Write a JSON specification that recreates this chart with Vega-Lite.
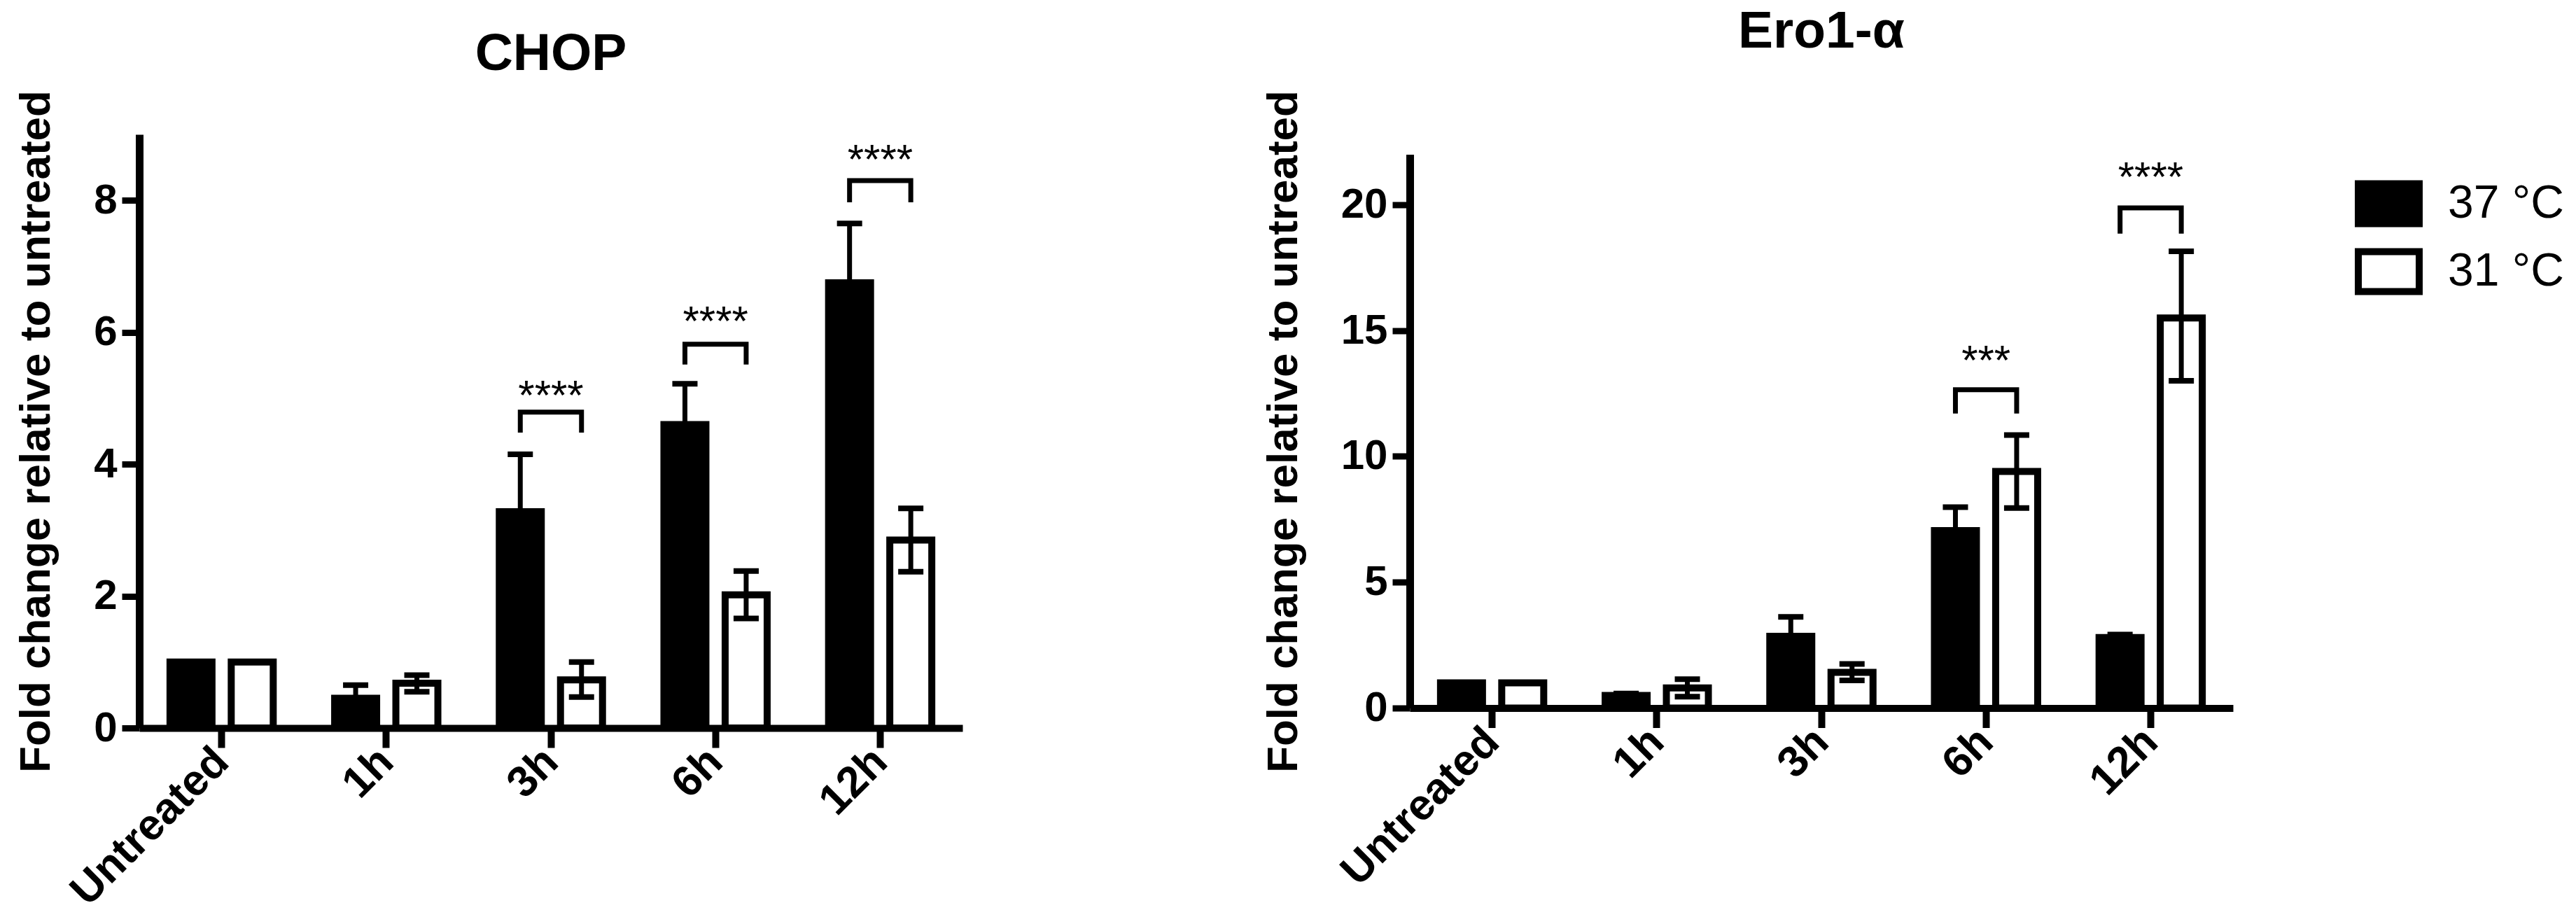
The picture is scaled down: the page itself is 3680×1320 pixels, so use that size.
{
  "$schema": "https://vega.github.io/schema/vega-lite/v6.json",
  "padding": {"left": 20, "top": 7, "right": 5, "bottom": 5},
  "background": "white",
  "config": {
    "font": "Liberation Sans",
    "view": {"stroke": null},
    "axis": {"grid": false, "domainColor": "black", "tickColor": "black", "labelColor": "black", "titleColor": "black", "labelFont": "Liberation Sans", "titleFont": "Liberation Sans"},
    "title": {"font": "Liberation Sans", "color": "black"}
  },
  "datasets": {
    "bars": [
      {"panel": "CHOP", "time": "Untreated", "temp": "37 °C", "mean": 1.0, "lo": null, "hi": null},
      {"panel": "CHOP", "time": "Untreated", "temp": "31 °C", "mean": 1.0, "lo": null, "hi": null},
      {"panel": "CHOP", "time": "1h", "temp": "37 °C", "mean": 0.45, "lo": 0.25, "hi": 0.65},
      {"panel": "CHOP", "time": "1h", "temp": "31 °C", "mean": 0.68, "lo": 0.55, "hi": 0.8},
      {"panel": "CHOP", "time": "3h", "temp": "37 °C", "mean": 3.28, "lo": 2.45, "hi": 4.15},
      {"panel": "CHOP", "time": "3h", "temp": "31 °C", "mean": 0.73, "lo": 0.47, "hi": 1.0},
      {"panel": "CHOP", "time": "6h", "temp": "37 °C", "mean": 4.6, "lo": 4.0, "hi": 5.22},
      {"panel": "CHOP", "time": "6h", "temp": "31 °C", "mean": 2.02, "lo": 1.66, "hi": 2.38},
      {"panel": "CHOP", "time": "12h", "temp": "37 °C", "mean": 6.75, "lo": 5.85, "hi": 7.65},
      {"panel": "CHOP", "time": "12h", "temp": "31 °C", "mean": 2.85, "lo": 2.37, "hi": 3.33},
      {"panel": "Ero1", "time": "Untreated", "temp": "37 °C", "mean": 1.0, "lo": null, "hi": null},
      {"panel": "Ero1", "time": "Untreated", "temp": "31 °C", "mean": 1.0, "lo": null, "hi": null},
      {"panel": "Ero1", "time": "1h", "temp": "37 °C", "mean": 0.5, "lo": 0.42, "hi": 0.58},
      {"panel": "Ero1", "time": "1h", "temp": "31 °C", "mean": 0.8, "lo": 0.45, "hi": 1.15},
      {"panel": "Ero1", "time": "3h", "temp": "37 °C", "mean": 2.85, "lo": 2.1, "hi": 3.62},
      {"panel": "Ero1", "time": "3h", "temp": "31 °C", "mean": 1.42, "lo": 1.1, "hi": 1.75},
      {"panel": "Ero1", "time": "6h", "temp": "37 °C", "mean": 7.05, "lo": 6.1, "hi": 7.98},
      {"panel": "Ero1", "time": "6h", "temp": "31 °C", "mean": 9.4, "lo": 7.95, "hi": 10.85},
      {"panel": "Ero1", "time": "12h", "temp": "37 °C", "mean": 2.8, "lo": 2.68, "hi": 2.92},
      {"panel": "Ero1", "time": "12h", "temp": "31 °C", "mean": 15.5, "lo": 13.0, "hi": 18.15}
    ],
    "brackets": [
      {"panel": "CHOP", "time": "3h", "temp": "37 °C", "ord": 1, "v": 4.48},
      {"panel": "CHOP", "time": "3h", "temp": "37 °C", "ord": 2, "v": 4.79},
      {"panel": "CHOP", "time": "3h", "temp": "31 °C", "ord": 3, "v": 4.79},
      {"panel": "CHOP", "time": "3h", "temp": "31 °C", "ord": 4, "v": 4.48},
      {"panel": "CHOP", "time": "6h", "temp": "37 °C", "ord": 1, "v": 5.51},
      {"panel": "CHOP", "time": "6h", "temp": "37 °C", "ord": 2, "v": 5.82},
      {"panel": "CHOP", "time": "6h", "temp": "31 °C", "ord": 3, "v": 5.82},
      {"panel": "CHOP", "time": "6h", "temp": "31 °C", "ord": 4, "v": 5.51},
      {"panel": "CHOP", "time": "12h", "temp": "37 °C", "ord": 1, "v": 7.97},
      {"panel": "CHOP", "time": "12h", "temp": "37 °C", "ord": 2, "v": 8.3},
      {"panel": "CHOP", "time": "12h", "temp": "31 °C", "ord": 3, "v": 8.3},
      {"panel": "CHOP", "time": "12h", "temp": "31 °C", "ord": 4, "v": 7.97},
      {"panel": "Ero1", "time": "6h", "temp": "37 °C", "ord": 1, "v": 11.7},
      {"panel": "Ero1", "time": "6h", "temp": "37 °C", "ord": 2, "v": 12.65},
      {"panel": "Ero1", "time": "6h", "temp": "31 °C", "ord": 3, "v": 12.65},
      {"panel": "Ero1", "time": "6h", "temp": "31 °C", "ord": 4, "v": 11.7},
      {"panel": "Ero1", "time": "12h", "temp": "37 °C", "ord": 1, "v": 18.85},
      {"panel": "Ero1", "time": "12h", "temp": "37 °C", "ord": 2, "v": 19.87},
      {"panel": "Ero1", "time": "12h", "temp": "31 °C", "ord": 3, "v": 19.87},
      {"panel": "Ero1", "time": "12h", "temp": "31 °C", "ord": 4, "v": 18.85}
    ],
    "stars": [
      {"panel": "CHOP", "time": "3h", "v": 5.02, "label": "****"},
      {"panel": "CHOP", "time": "6h", "v": 6.14, "label": "****"},
      {"panel": "CHOP", "time": "12h", "v": 8.6, "label": "****"},
      {"panel": "Ero1", "time": "6h", "v": 13.75, "label": "***"},
      {"panel": "Ero1", "time": "12h", "v": 21.05, "label": "****"}
    ]
  },
  "hconcat": [
    {
      "width": 1176,
      "height": 848,
      "title": {"text": "CHOP", "fontSize": 75, "fontWeight": "bold", "offset": -46, "baseline": "alphabetic", "frame": "group", "anchor": "middle"},
      "encoding": {
        "x": {"field": "time", "type": "nominal", "sort": ["Untreated", "1h", "3h", "6h", "12h"],
          "scale": {"paddingInner": 0.373, "paddingOuter": 0.1865},
          "axis": {"title": null, "labelAngle": -45, "labelAlign": "right", "labelBaseline": "middle", "labelFontSize": 62, "labelFontWeight": "bold", "labelPadding": 10, "labelLimit": 0, "tickSize": 28, "tickWidth": 10, "domainWidth": 10}}
      },
      "layer": [
        {
          "data": {"name": "bars"},
          "transform": [{"filter": "datum.panel === 'CHOP'"}],
          "mark": {"type": "bar", "stroke": "black", "strokeWidth": 10, "strokeJoin": "miter"},
          "encoding": {
            "xOffset": {"field": "temp", "type": "nominal", "sort": ["37 °C", "31 °C"], "scale": {"paddingInner": 0.314, "paddingOuter": 0}},
            "y": {"field": "mean", "type": "quantitative", "scale": {"domain": [0, 9], "nice": false},
              "axis": {"values": [0, 2, 4, 6, 8], "format": "d", "title": "Fold change relative to untreated", "titleFontSize": 62, "titleFontWeight": "bold", "titlePadding": 50, "labelFontSize": 60, "labelFontWeight": "bold", "labelPadding": 7, "tickSize": 25, "tickWidth": 9, "domainWidth": 11}},
            "fill": {"field": "temp", "type": "nominal", "scale": {"domain": ["37 °C", "31 °C"], "range": ["black", "white"]}, "legend": null}
          }
        },
        {
          "data": {"name": "bars"},
          "transform": [{"filter": "datum.panel === 'CHOP' && datum.hi != null"}],
          "mark": {"type": "rule", "color": "black", "strokeWidth": 7},
          "encoding": {"xOffset": {"field": "temp", "type": "nominal", "sort": ["37 °C", "31 °C"]}, "y": {"field": "lo", "type": "quantitative"}, "y2": {"field": "hi"}}
        },
        {
          "data": {"name": "bars"},
          "transform": [{"filter": "datum.panel === 'CHOP' && datum.hi != null"}],
          "mark": {"type": "tick", "color": "black", "size": 36, "thickness": 8, "opacity": 1},
          "encoding": {"xOffset": {"field": "temp", "type": "nominal", "sort": ["37 °C", "31 °C"]}, "y": {"field": "hi", "type": "quantitative"}}
        },
        {
          "data": {"name": "bars"},
          "transform": [{"filter": "datum.panel === 'CHOP' && datum.hi != null"}],
          "mark": {"type": "tick", "color": "black", "size": 36, "thickness": 8, "opacity": 1},
          "encoding": {"xOffset": {"field": "temp", "type": "nominal", "sort": ["37 °C", "31 °C"]}, "y": {"field": "lo", "type": "quantitative"}}
        },
        {
          "data": {"name": "brackets"},
          "transform": [{"filter": "datum.panel === 'CHOP'"}],
          "mark": {"type": "line", "color": "black", "strokeWidth": 7, "strokeJoin": "miter", "strokeCap": "butt"},
          "encoding": {"xOffset": {"field": "temp", "type": "nominal", "sort": ["37 °C", "31 °C"]}, "y": {"field": "v", "type": "quantitative"}, "detail": {"field": "time"}, "order": {"field": "ord"}}
        },
        {
          "data": {"name": "stars"},
          "transform": [{"filter": "datum.panel === 'CHOP'"}],
          "mark": {"type": "text", "color": "black", "fontSize": 60, "baseline": "middle", "align": "center"},
          "encoding": {"y": {"field": "v", "type": "quantitative"}, "text": {"field": "label"}}
        }
      ]
    },
    {
      "width": 1176,
      "height": 791,
      "title": {"text": "Ero1-α", "fontSize": 75, "fontWeight": "bold", "offset": -14, "baseline": "alphabetic", "frame": "group", "anchor": "middle"},
      "encoding": {
        "x": {"field": "time", "type": "nominal", "sort": ["Untreated", "1h", "3h", "6h", "12h"],
          "scale": {"paddingInner": 0.373, "paddingOuter": 0.1865},
          "axis": {"title": null, "labelAngle": -45, "labelAlign": "right", "labelBaseline": "middle", "labelFontSize": 62, "labelFontWeight": "bold", "labelPadding": 10, "labelLimit": 0, "tickSize": 28, "tickWidth": 10, "domainWidth": 10}}
      },
      "layer": [
        {
          "data": {"name": "bars"},
          "transform": [{"filter": "datum.panel === 'Ero1'"}],
          "mark": {"type": "bar", "stroke": "black", "strokeWidth": 10, "strokeJoin": "miter"},
          "encoding": {
            "xOffset": {"field": "temp", "type": "nominal", "sort": ["37 °C", "31 °C"], "scale": {"paddingInner": 0.314, "paddingOuter": 0}},
            "y": {"field": "mean", "type": "quantitative", "scale": {"domain": [0, 22], "nice": false},
              "axis": {"values": [0, 5, 10, 15, 20], "format": "d", "title": "Fold change relative to untreated", "titleFontSize": 62, "titleFontWeight": "bold", "titlePadding": 50, "labelFontSize": 60, "labelFontWeight": "bold", "labelPadding": 7, "tickSize": 25, "tickWidth": 9, "domainWidth": 11}},
            "fill": {"field": "temp", "type": "nominal", "scale": {"domain": ["37 °C", "31 °C"], "range": ["black", "white"]},
              "legend": {"orient": "none", "legendX": 1350, "legendY": 22, "title": null, "symbolType": "M-1,-0.655H1V0.655H-1Z", "symbolSize": 7569, "symbolStrokeColor": "black", "symbolStrokeWidth": 10, "labelFontSize": 66, "labelFont": "Liberation Sans", "labelColor": "black", "labelOffset": 36, "labelLimit": 0, "rowPadding": -3, "padding": 0}}
          }
        },
        {
          "data": {"name": "bars"},
          "transform": [{"filter": "datum.panel === 'Ero1' && datum.hi != null"}],
          "mark": {"type": "rule", "color": "black", "strokeWidth": 7},
          "encoding": {"xOffset": {"field": "temp", "type": "nominal", "sort": ["37 °C", "31 °C"]}, "y": {"field": "lo", "type": "quantitative"}, "y2": {"field": "hi"}}
        },
        {
          "data": {"name": "bars"},
          "transform": [{"filter": "datum.panel === 'Ero1' && datum.hi != null"}],
          "mark": {"type": "tick", "color": "black", "size": 36, "thickness": 8, "opacity": 1},
          "encoding": {"xOffset": {"field": "temp", "type": "nominal", "sort": ["37 °C", "31 °C"]}, "y": {"field": "hi", "type": "quantitative"}}
        },
        {
          "data": {"name": "bars"},
          "transform": [{"filter": "datum.panel === 'Ero1' && datum.hi != null"}],
          "mark": {"type": "tick", "color": "black", "size": 36, "thickness": 8, "opacity": 1},
          "encoding": {"xOffset": {"field": "temp", "type": "nominal", "sort": ["37 °C", "31 °C"]}, "y": {"field": "lo", "type": "quantitative"}}
        },
        {
          "data": {"name": "brackets"},
          "transform": [{"filter": "datum.panel === 'Ero1'"}],
          "mark": {"type": "line", "color": "black", "strokeWidth": 7, "strokeJoin": "miter", "strokeCap": "butt"},
          "encoding": {"xOffset": {"field": "temp", "type": "nominal", "sort": ["37 °C", "31 °C"]}, "y": {"field": "v", "type": "quantitative"}, "detail": {"field": "time"}, "order": {"field": "ord"}}
        },
        {
          "data": {"name": "stars"},
          "transform": [{"filter": "datum.panel === 'Ero1'"}],
          "mark": {"type": "text", "color": "black", "fontSize": 60, "baseline": "middle", "align": "center"},
          "encoding": {"y": {"field": "v", "type": "quantitative"}, "text": {"field": "label"}}
        }
      ]
    }
  ],
  "spacing": 639,
  "bounds": "flush",
  "center": true,
  "resolve": {"scale": {"fill": "independent"}, "legend": {"fill": "independent"}}
}
